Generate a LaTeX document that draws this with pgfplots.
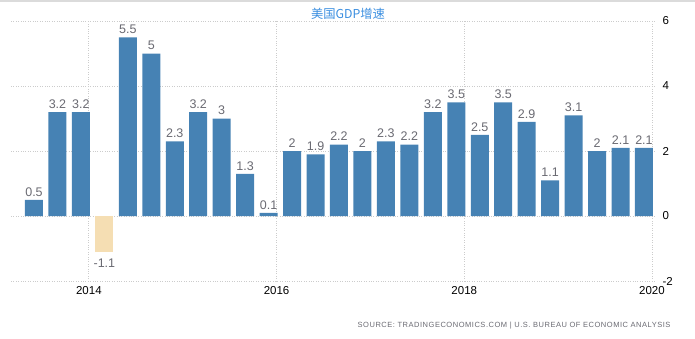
\documentclass[border=0pt]{standalone}
\usepackage{pgfplots}
\pgfplotsset{compat=1.18}
\usepackage{fontspec}
\setmainfont{Liberation Sans}
\newfontfamily\cjk{Noto Sans CJK SC}
\newfontfamily\srcfont[LetterSpace=7]{Liberation Sans}
\definecolor{barblue}{HTML}{4682B4}
\definecolor{negbar}{HTML}{F5DEB3}
\definecolor{lab}{HTML}{6A6A72}
\definecolor{titleblue}{HTML}{3A8EE0}
\definecolor{gridc}{HTML}{CCCCCC}
\begin{document}
\begin{tikzpicture}[x=1pt,y=1pt]
\useasboundingbox (0,0) rectangle (695,338);
\draw[gridc!70, line width=1.6pt] (0,337) -- (695,337);
\begin{axis}[
  at={(11pt,57pt)}, anchor=south west,
  scale only axis, width=644pt, height=260pt,
  xmin=-0.98, xmax=26.47, ymin=-2, ymax=6,
  axis line style={draw=none},
  major tick length=0pt,
  xtick={2.34,10.34,18.34,26.34},
  xticklabels={2014,2016,2018,2020},
  ytick={-2,0,2,4,6},
  yticklabel pos=right,
  /pgf/number format/assume math mode=true,
  ticklabel style={font=\fontsize{11.5}{11.5}\selectfont, text=black},
  xticklabel style={yshift=-2pt},
  yticklabel style={xshift=4pt},
  grid=major,
  major grid style={gridc, dotted, line width=0.8pt},
  ybar, bar width=18pt, bar shift=0pt,
  nodes near coords,
  every node near coord/.append style={font=\fontsize{12.5}{12.5}\selectfont, text=lab},
  clip=false,
]
\addplot[fill=barblue, draw=none] coordinates {
(0,0.5) (1,3.2) (2,3.2) (4,5.5) (5,5) (6,2.3) (7,3.2) (8,3) (9,1.3) (10,0.1)
(11,2) (12,1.9) (13,2.2) (14,2) (15,2.3) (16,2.2) (17,3.2) (18,3.5) (19,2.5)
(20,3.5) (21,2.9) (22,1.1) (23,3.1) (24,2) (25,2.1) (26,2.1)};
\addplot[fill=negbar, draw=none, every node near coord/.append style={anchor=north, yshift=-4pt}] coordinates {(3,-1.1)};
\end{axis}
\node[text=titleblue, font=\cjk\fontsize{12.3}{12.3}\selectfont] at (348,324) {美国GDP增速};
\node[anchor=east, text=lab, font=\srcfont\fontsize{7.5}{7.5}\selectfont] at (674,12) {SOURCE: TRADINGECONOMICS.COM | U.S. BUREAU OF ECONOMIC ANALYSIS};
\end{tikzpicture}
\end{document}
